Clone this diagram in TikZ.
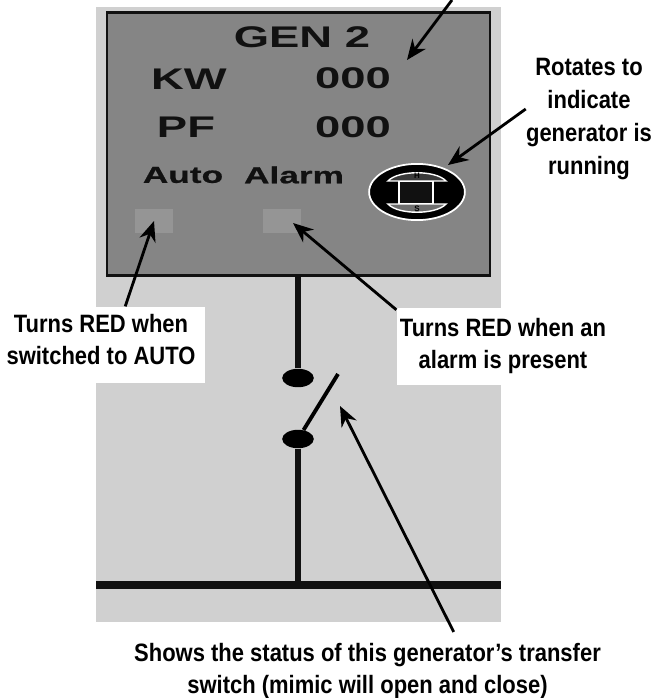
\documentclass[tikz,border=0pt]{standalone}
\usepackage{fontspec}
\usepackage{xcolor}
\usetikzlibrary{arrows.meta,shapes.geometric}
\setmainfont{Liberation Sans}
\newfontfamily\calloutfont[FakeStretch=0.875]{Liberation Sans}
\newfontfamily\panelfont[FakeStretch=1.52]{Liberation Sans}
\newfontfamily\lampfont[FakeStretch=1.52,FakeBold=0.8]{Liberation Sans}
\definecolor{mimicbg}{HTML}{D0D0D0}
\definecolor{panelgray}{HTML}{858585}
\definecolor{lampgray}{HTML}{959595}
\definecolor{capgray}{HTML}{6E6E6E}
\definecolor{capdark}{HTML}{3A3A3A}
\definecolor{inkblack}{HTML}{111111}
\tikzset{
    callout/.style={font=\fontsize{14.3}{18.2}\selectfont\calloutfont\bfseries, align=center, inner sep=0pt},
    paneltext/.style={font=\fontsize{17}{18}\selectfont\panelfont\bfseries, text=inkblack, inner sep=0pt},
    lamptext/.style={font=\fontsize{13.2}{16}\selectfont\lampfont\bfseries, text=inkblack, inner sep=0pt},
    lamp/.style={fill=lampgray, minimum width=22pt, minimum height=13.6pt, inner sep=0pt},
    notebox/.style={fill=white, inner sep=0pt, minimum height=43.6pt},
    pointer/.style={-{Stealth[length=11.5pt,width=9.5pt]}, line width=1.6pt, black},
    wire/.style={line width=3.4pt, inkblack},
    contact/.style={ellipse, fill=black, minimum width=18pt, minimum height=10.5pt, inner sep=0pt}
}

\begin{document}
\begin{tikzpicture}[x=0.02cm, y=-0.02cm]
    \useasboundingbox (0,0) rectangle (654,698);

    % Mimic background
    \fill[mimicbg] (96,7) rectangle (501,622);

    % Generator panel
    \node[draw=inkblack, line width=1.4pt, fill=panelgray, minimum width=218pt, minimum height=149.5pt, inner sep=0pt] (genpanel) at (298.5,144) {};
    \node[paneltext] (gentitle) at (302,37) {GEN 2};
    \node[paneltext] (kwlabel) at (189,79) {KW};
    \node[paneltext] (kwvalue) at (353,78) {000};
    \node[paneltext] (pflabel) at (186,127) {PF};
    \node[paneltext] (pfvalue) at (353,127) {000};
    \node[lamptext] (autolabel) at (183,175) {Auto};
    \node[lamptext] (alarmlabel) at (294,175) {Alarm};
    \node[lamp] (autolamp) at (154,221) {};
    \node[lamp] (alarmlamp) at (282,221) {};

    % Rotating generator icon
    \node[ellipse, draw=white, line width=1pt, fill=black, minimum width=54.5pt, minimum height=32pt, inner sep=0pt] (genicon) at (417,192) {};
    \draw[white, line width=0.8pt, fill=capdark] (388,181) .. controls (398,170) and (436,170) .. (446,181) -- cycle;
    \draw[white, line width=0.8pt, fill=capgray] (388,204) .. controls (398,215) and (436,215) .. (446,204) -- cycle;
    \node[draw=white, line width=1pt, fill=inkblack, minimum width=19.5pt, minimum height=12.5pt, inner sep=0pt] (iconcore) at (416,192.5) {};
    \node[font=\fontsize{4.5}{5}\selectfont\bfseries, text=black, inner sep=0pt] (iconh) at (417,176) {H};
    \node[font=\fontsize{4.5}{5}\selectfont\bfseries, text=black, inner sep=0pt] (icons) at (417,209) {S};

    % Transfer switch and bus
    \coordinate (busleft) at (96,585);
    \coordinate (busright) at (501,585);
    \coordinate (bustap) at (298,585);
    \node[contact] (upper) at (298,378) {};
    \node[contact] (lower) at (298,439) {};
    \coordinate (bladetip) at (338,374);
    \draw[wire] (genpanel.south -| upper) -- (upper);
    \draw[wire] (lower) -- (bustap);
    \draw[line width=2.2pt, black] (lower) -- (bladetip);
    \draw[line width=4.4pt, inkblack] (busleft) -- (busright);

    % Callout labels
    \node[notebox, minimum width=117pt] (autobox) at (102,345) {};
    \node[notebox, minimum width=121pt] (alarmbox) at (503,346.5) {};
    \node[callout] (autonote) at (101,339.5) {Turns RED when\\switched to AUTO};
    \node[callout] (alarmnote) at (503,346) {Turns RED when an\\alarm is present};
    \node[callout, font=\fontsize{14.3}{18.9}\selectfont\calloutfont\bfseries] (rotnote) at (589,119) {Rotates to\\indicate\\generator is\\running};
    \node[callout] (switchnote) at (367.5,671) {Shows the status of this generator’s transfer\\switch (mimic will open and close)};

    % Pointers
    \coordinate (topend) at (452,0);
    \coordinate (valuetip) at (407,60);
    \coordinate (icontip) at (448,165);
    \coordinate (alarmtip) at (293,223);
    \coordinate (switchtip) at (340,406);
    \draw[pointer] (topend) -- (valuetip);
    \draw[pointer] (rotnote.171) -- (icontip);
    \draw[pointer] (autobox.59) -- (autolamp.center);
    \draw[pointer] (alarmbox.161) -- (alarmtip);
    \draw[pointer, shorten <=7pt] (switchnote.17) -- (switchtip);
\end{tikzpicture}
\end{document}
